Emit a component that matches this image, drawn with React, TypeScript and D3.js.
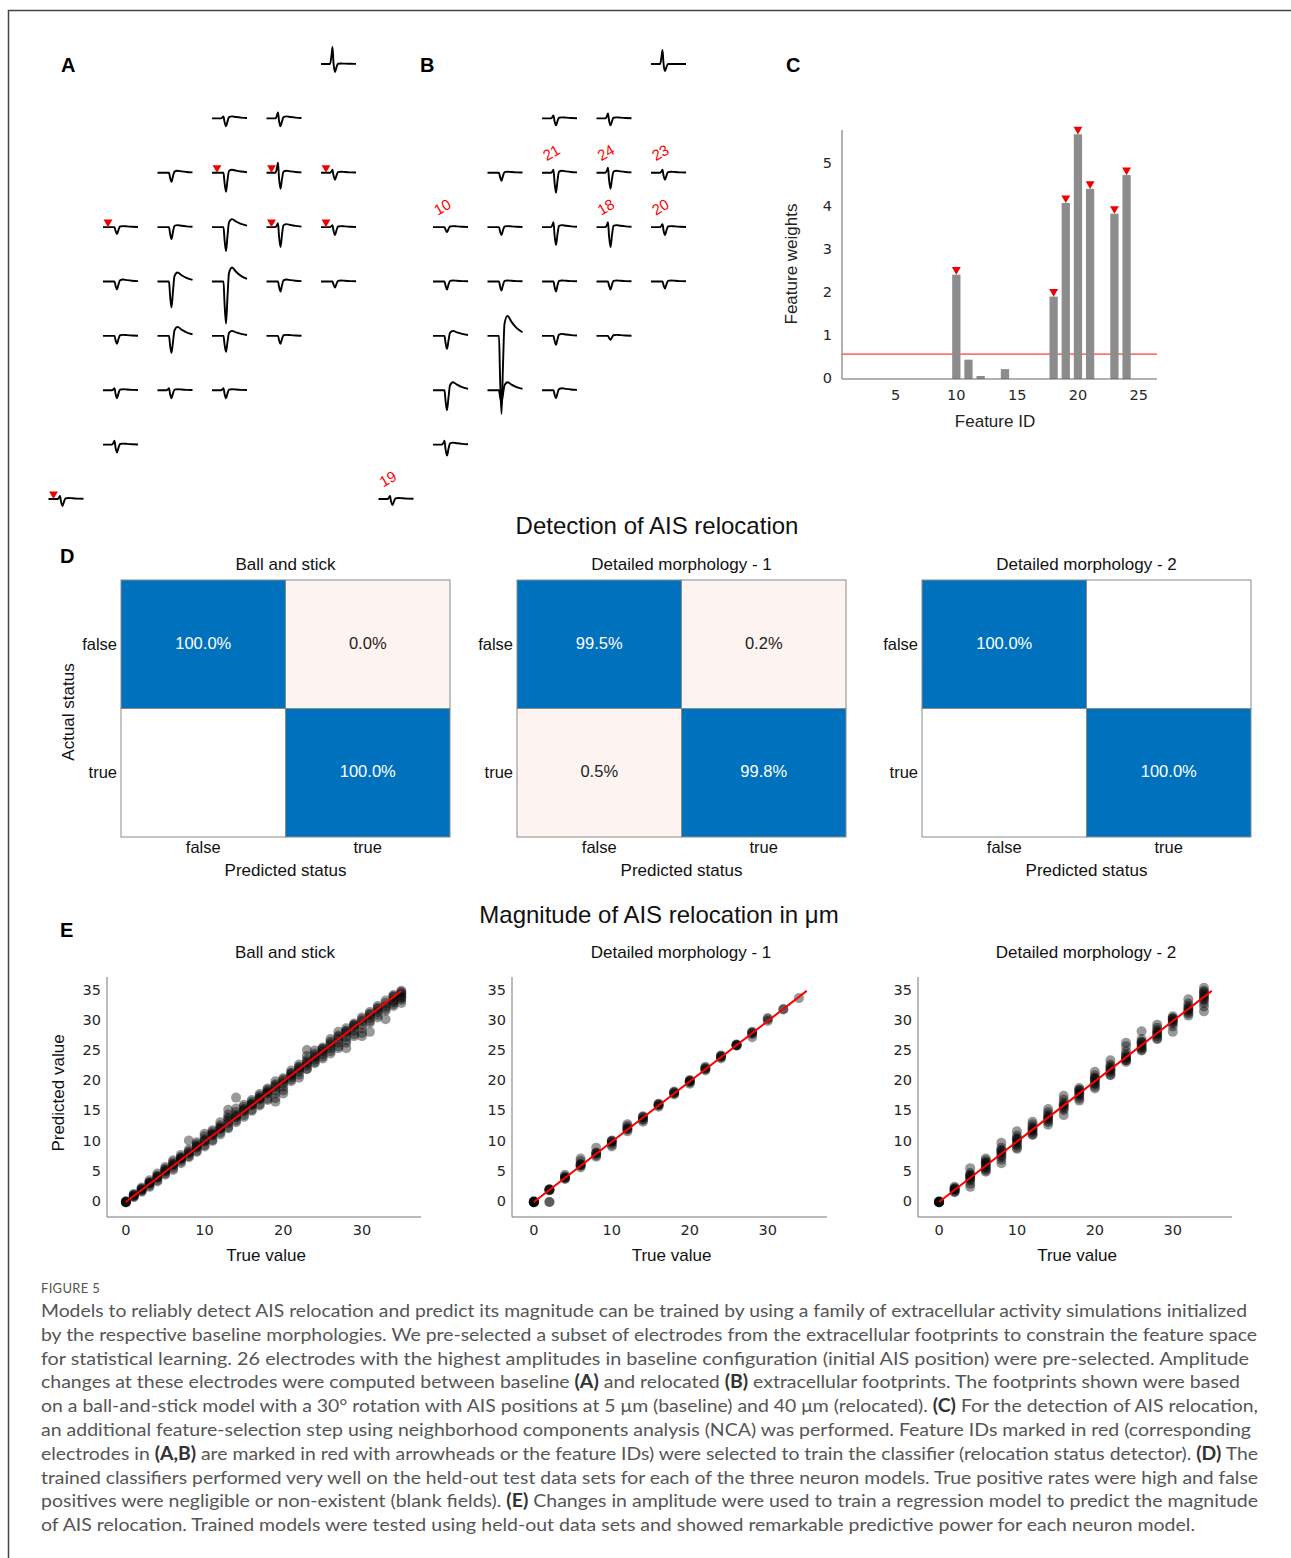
import React, { useEffect } from 'react';
import * as d3 from 'd3';

// ---- A / B : extracellular footprints (template spike, amplitudes per electrode) ----
const spikeT = [0, 9, 10.5, 11.5, 12.5, 14, 15.5, 17, 20, 24, 29, 35];
const preShape = [0, 0, 0.5, 1, 0.3, 0, 0, 0, 0, 0, 0, 0];
const troughShape = [0, 0, 0, 0, -0.5, -1, -0.4, 0, 0, 0, 0, 0];
const reboundShape = [0, 0, 0, 0, 0, 0, 0.1, 0.6, 1, 0.7, 0.4, 0.18];

const elecCol = [4, 2, 3, 1, 2, 3, 4, 0, 1, 2, 3, 4, 0, 1, 2, 3, 4, 0, 1, 2, 3, 0, 1, 2, 0, -1];
const elecRow = [0, 1, 1, 2, 2, 2, 2, 3, 3, 3, 3, 3, 4, 4, 4, 4, 4, 5, 5, 5, 5, 6, 6, 6, 7, 8];
const elecFeature = [null, null, null, null, '21', '24', '23', '10', null, null, '18', '20', null, null, null, null, null, null, null, null, null, null, null, null, null, '19'];
// [pre-spike, trough, rebound]
const baselineAmps = [
  [17, 8, 0.5], [2, 8, 2], [6, 8, 2], [0, 9, 2], [0, 19, 3], [10, 16, 2], [3, 7, 1], [0, 7, 1], [0, 12, 2], [0, 24, 8],
  [4, 20, 3], [2, 8, 1], [0, 8, 2], [0, 26, 9], [0, 42, 14], [0, 10, 2], [0, 6, 1], [0, 8, 1], [0, 17, 9], [0, 16, 5],
  [0, 8, 1], [2, 8, 1], [2, 8, 1], [2, 8, 1], [4, 8, 1], [3, 7, 1],
];
const relocatedAmps = [
  [14, 7, 0], [3, 7, 1], [5, 7, 1], [0, 8, 1], [3, 20, 2], [5, 16, 2], [3, 7, 1], [0, 5, 1], [0, 8, 1], [5, 18, 2],
  [5, 20, 2], [3, 8, 1], [0, 8, 1], [0, 9, 1], [0, 10, 1], [0, 8, 1], [0, 7, 1], [0, 13, 5], [0, 78, 20], [0, 9, 2],
  [0, 4, 1], [0, 20, 8], [0, 12, 8], [0, 8, 2], [4, 11, 2], [3, 6, 1],
];

// ---- C : NCA feature weights ----
const featureIds = [1, 2, 3, 4, 5, 6, 7, 8, 9, 10, 11, 12, 13, 14, 15, 16, 17, 18, 19, 20, 21, 22, 23, 24, 25, 26];
const featureWeights = [0, 0, 0, 0, 0, 0, 0, 0, 0, 2.43, 0.45, 0.07, 0, 0.23, 0, 0, 0, 1.92, 4.1, 5.7, 4.43, 0, 3.85, 4.75, 0, 0];
const selectedFeatures = [10, 18, 19, 20, 21, 23, 24];
const weightThreshold = 0.58;
const cXTicks = [5, 10, 15, 20, 25];
const cYTicks = [0, 1, 2, 3, 4, 5];

// ---- D : confusion matrices ----
const modelNames = ['Ball and stick', 'Detailed morphology - 1', 'Detailed morphology - 2'];
const statusLabels = ['false', 'true'];
const confusion = [
  [[100.0, 0.0], [null, 100.0]],
  [[99.5, 0.2], [0.5, 99.8]],
  [[100.0, null], [null, 100.0]],
];

// ---- E : regression (true value, residuals of predictions) ----
const bsTrue = [0, 1, 2, 3, 4, 5, 6, 7, 8, 9, 10, 11, 12, 13, 14, 15, 16, 17, 18, 19, 20, 21, 22, 23, 24, 25, 26, 27, 28, 29, 30, 31, 32, 33, 34, 35];
const bsResid = [
  [0, -0.1, 0.1, 0, -0.05, 0.05], [0.2, -0.1, 0.3, 0, 0.1, -0.2], [0.1, -0.2, 0.4, 0, 0.2, -0.3],
  [0.3, -0.3, 0.6, 0, 0.2, -0.5, 0.1], [0.4, -0.4, 0.7, 0, 0.2, -0.6, 0.1], [0.5, -0.3, 0.8, 0, 0.2, -0.5, 0.3],
  [0.6, -0.4, 0.9, 0, 0.3, -0.7, 0.2], [0.5, -0.3, 0.8, 0.1, 0.3, -0.6, 0.2], [2.2, 0.4, -0.4, 0.7, 0, 0.2, -0.6],
  [0.6, -0.5, 0.9, 0, 0.3, -0.7, 0.2], [1.3, -0.6, 0.9, 0, 0.4, -0.8, 0.2], [0.9, -0.7, 0.6, 0, 0.3, -0.9, 0.2],
  [1.2, -0.5, 0.7, 0.1, 0.4, -0.8, 0.2], [2.3, 1.5, -0.6, 0.8, 0, 0.4, -0.8, 1.0], [3.3, 1.5, -0.5, 0.9, 0, 0.4, -0.8, 0.2],
  [0.8, -0.6, 1.1, 0, 0.3, -0.9, 0.4], [0.9, -0.7, 0.6, 0, 0.3, -0.9, 0.2], [0.9, -0.8, 0.6, 0, 0.3, -1.0, 0.2],
  [0.8, -0.9, 0.6, 0, 0.3, -1.1, 0.2], [1.0, -2.4, -1.8, 0.5, 0, 0.3, -1.0, -0.5], [0.5, -1.5, -2.0, 0, 0.3, -0.9, -0.4],
  [0.4, -1.0, 0.8, 0, 0.3, -0.7, -0.3], [0.8, -1.4, 0.4, 0, 0.3, -0.9, -0.4], [2.2, 1.2, -0.9, 0.6, 0, 0.3, -1.0, -0.4],
  [1.1, -1.0, 0.6, 0, 0.3, -0.8, -0.4], [0.6, -1.2, 0.4, 0, 0.3, -0.9, -0.5], [1.0, -1.0, 0.6, 0, 0.3, -1.4, -0.5],
  [1.2, -1.2, 0.6, 0, 0.4, -1.5, -0.6], [0.8, -2.5, -1.6, 0.4, 0, 0.3, -1.2, -0.6], [0.6, -1.2, 0.4, 0, 0.3, -1.5, -0.6],
  [0.6, -2.5, -2.0, 0.3, 0, -1.2, -0.6], [0.5, -2.8, -1.0, 0.2, 0, -1.3, -0.5], [0.5, -1.0, 0.2, 0, -1.4, -0.5],
  [0.4, -2.7, -1.0, 0, -1.3, -0.6], [0.3, -1.2, 0.1, 0, -1.5, -0.6, -0.9], [0, -1.0, -0.4, -0.2, -1.5, -2.0, -0.7, -1.2],
];
const dmTrue = [0, 2, 4, 6, 8, 10, 12, 14, 16, 18, 20, 22, 24, 26, 28, 30, 32, 34];
const dm1Resid = [
  [0, 0, 0, 0.1, -0.1, 0, 0.05, -0.05], [0, -0.1, 0.1, 0, 0.05, -2, -2], [0, 0.2, -0.2, 0.1, 0.5, -0.1], [0, 0.3, -0.3, 0.2, 1.2, 0.8, 0.1],
  [0, -0.3, 0.2, -0.5, 1.0, 0.1], [0, -0.2, 0.2, -0.8, -0.5, 0.1], [0, 0.3, -0.3, 0.6, 0.9, 0.1], [0, -0.3, 0.2, -0.7, -0.4, 0.1],
  [0, 0.2, -0.2, 0.3, 0.1], [0, 0.2, -0.2, 0.3, 0.1], [0, -0.2, 0.2, -0.4, 0.1, 0], [0, -0.2, 0.2, 0.4, 0.1], [0, 0.2, -0.2, 0.3, 0.1],
  [0, 0, 0.1, -0.1, 0.05], [0, -0.2, 0.2, -0.7, 0.1], [0.3, 0, 0.5], [0, -0.1], [-0.2],
];
const dm2Resid = [
  [0, 0, 0, 0.1, -0.1, 0, 0.05, -0.05], [0, 0.3, -0.3, 0.5, -0.4, 0.2, -0.1, 0.1], [0, 0.4, -0.5, 0.8, -1.0, 1.6, -1.5, 0.2, -0.2, 0.5],
  [0, 0.5, -0.5, 0.9, -0.8, 1.2, -1.0, 0.3, -0.3, 0.6], [0, 0.6, -0.6, 1.0, -1.0, 1.8, -1.6, 0.3, -0.3, 0.5], [0, 0.6, -0.6, 1.0, -1.0, 1.7, -1.2, 0.3, -0.3, 0.4],
  [0, 0.5, -0.5, 0.9, -0.8, 1.3, -0.9, 0.2, -0.2], [0, 0.5, -0.5, 0.9, -0.8, 1.4, -1.2, 0.2, -0.2], [0, 0.5, -0.5, 1.0, -0.8, 1.6, -1.6, 0.2, -0.2],
  [0, 0.5, -0.5, 0.9, -0.9, -1.2, 0.3, -0.2, 0.6], [0, 0.5, -0.5, 1.0, -0.9, 1.6, -1.2, 0.3, -0.3, 0.6], [0, 0.5, -0.5, 0.8, -0.9, 1.5, -1.0, 0.2, -0.2],
  [0, 0.5, -0.5, 1.0, -0.8, 2.4, 1.8, -0.5, 0.2, -0.2], [0, 0.5, -0.5, 1.0, -0.9, 2.3, -0.8, 0.3, -0.3, 0.6], [0, 0.5, -0.5, 0.9, -0.9, 1.4, -1.0, 0.2, -0.2],
  [0, 0.4, -0.4, 0.8, -0.9, -1.8, 0.3, -0.2, 0.5], [0, 0.5, -0.5, 0.9, -0.8, 1.6, -1.1, 0.2, -0.2], [0, 0.5, -0.5, 1.0, -1.0, 1.5, -1.6, -2.4, 0.8, -0.3, 0.2],
];
const eTicks = [0, 5, 10, 15, 20, 25, 30, 35];
const eXTicks = [0, 10, 20, 30];
const fitLine = [0, 35];

const captionLines = [
  'Models to reliably detect AIS relocation and predict its magnitude can be trained by using a family of extracellular activity simulations initialized',
  'by the respective baseline morphologies. We pre-selected a subset of electrodes from the extracellular footprints to constrain the feature space',
  'for statistical learning. 26 electrodes with the highest amplitudes in baseline configuration (initial AIS position) were pre-selected. Amplitude',
  'changes at these electrodes were computed between baseline **(A)** and relocated **(B)** extracellular footprints. The footprints shown were based',
  'on a ball-and-stick model with a 30° rotation with AIS positions at 5 μm (baseline) and 40 μm (relocated). **(C)** For the detection of AIS relocation,',
  'an additional feature-selection step using neighborhood components analysis (NCA) was performed. Feature IDs marked in red (corresponding',
  'electrodes in **(A,B)** are marked in red with arrowheads or the feature IDs) were selected to train the classifier (relocation status detector). **(D)** The',
  'trained classifiers performed very well on the held-out test data sets for each of the three neuron models. True positive rates were high and false',
  'positives were negligible or non-existent (blank fields). **(E)** Changes in amplitude were used to train a regression model to predict the magnitude',
  'of AIS relocation. Trained models were tested using held-out data sets and showed remarkable predictive power for each neuron model.',
];
const captionEnds = [1247, 1257, 1249, 1240, 1258, 1251, 1258, 1258, 1258, 1195];

const FONT = "'Liberation Sans', Arial, sans-serif";
const TICKFONT = "'DejaVu Sans', Verdana, sans-serif";
const BLUE = '#0072bd';
const TICKCOL = '#262626';

const triDown = d3.symbol(d3.symbolTriangle, 34)();

function spikePath(x0: number, y0: number, amp: number[]) {
  const xs = d3.scaleLinear().domain([0, 35]).range([x0, x0 + 35]);
  const pts: [number, number][] = spikeT.map((t, i) => [t, amp[0] * preShape[i] + amp[1] * troughShape[i] + amp[2] * reboundShape[i]]);
  return d3.line<[number, number]>().x(d => xs(d[0])).y(d => y0 - d[1]).curve(d3.curveMonotoneX)(pts) || '';
}

const Footprint: React.FC<{ x0: number; amps: number[][]; letter: string; letterX: number; labels: boolean }> = ({ x0, amps, letter, letterX, labels }) => {
  const col = d3.scaleLinear().domain([0, 4]).range([x0, x0 + 218]);
  const row = d3.scaleLinear().domain([0, 8]).range([64, 499]);
  return (
    <g>
      <text x={letterX} y={72} fontFamily={FONT} fontWeight="bold" fontSize={20}>{letter}</text>
      {amps.map((a, i) => {
        const x = col(elecCol[i]);
        const y = row(elecRow[i]);
        const f = elecFeature[i];
        return (
          <g key={i}>
            <path d={spikePath(x, y, a)} fill="none" stroke="#000" strokeWidth={1.9} strokeLinejoin="round" />
            {f && !labels && <path d={triDown} transform={`translate(${x + 5},${y - 5}) rotate(180)`} fill="#e00" />}
            {f && labels && (
              <text x={x + 10} y={y - 19} transform={`rotate(-30 ${x + 10} ${y - 19})`} fill="#f00" fontFamily={FONT}
                fontSize={15} textAnchor="middle" dominantBaseline="middle">{f}</text>
            )}
          </g>
        );
      })}
    </g>
  );
};

const WeightsPanel: React.FC = () => {
  const x = d3.scaleLinear().domain([0.6, 26.5]).range([842, 1157]);
  const y = d3.scaleLinear().domain([0, 5.8]).range([379, 130]);
  const bw = (x(1) - x(0)) * 0.68;
  return (
    <g fontFamily={TICKFONT}>
      <text x={786} y={72} fontFamily={FONT} fontWeight="bold" fontSize={20}>C</text>
      <line x1={x.range()[0]} x2={x.range()[1]} y1={y(weightThreshold)} y2={y(weightThreshold)} stroke="#ff3b3b" strokeWidth={1.2} />
      {featureIds.map((id, i) => featureWeights[i] > 0 && (
        <rect key={id} x={x(id) - bw / 2} y={y(featureWeights[i])} width={bw} height={y(0) - y(featureWeights[i])} fill="#8c8c8c" />
      ))}
      {selectedFeatures.map(id => (
        <path key={id} d={triDown} transform={`translate(${x(id)},${y(featureWeights[id - 1]) - 5}) rotate(180)`} fill="#e00" />
      ))}
      <line x1={x.range()[0]} x2={x.range()[1]} y1={y(0)} y2={y(0)} stroke="#666" />
      <line x1={x.range()[0]} x2={x.range()[0]} y1={y(0)} y2={y.range()[1]} stroke="#666" />
      {cXTicks.map(t => (
        <text key={t} x={x(t)} y={396} fontSize={14.5} fill={TICKCOL} textAnchor="middle" dominantBaseline="middle">{t}</text>
      ))}
      {cYTicks.map(t => (
        <text key={t} x={832} y={y(t)} fontSize={14.5} fill={TICKCOL} textAnchor="end" dominantBaseline="middle">{t}</text>
      ))}
      <text x={995} y={423} fontFamily={FONT} fontSize={17} fill="#222" textAnchor="middle" dominantBaseline="middle">Feature ID</text>
      <text transform="translate(793,264) rotate(-90)" fontFamily={FONT} fontSize={17} fill="#222" textAnchor="middle" dominantBaseline="middle">Feature weights</text>
    </g>
  );
};

const ConfusionPanel: React.FC<{ left: number; m: number }> = ({ left, m }) => {
  const xb = d3.scaleBand().domain(statusLabels).range([left, left + 329]);
  const yb = d3.scaleBand().domain(statusLabels).range([580, 837]);
  const cx = left + 164.5;
  return (
    <g fontFamily={FONT}>
      <text x={cx} y={566} fontSize={17} textAnchor="middle" dominantBaseline="middle" fill="#111">{modelNames[m]}</text>
      {statusLabels.map((a, r) => statusLabels.map((p, c) => {
        const v = confusion[m][r][c];
        const fill = v === null ? '#fff' : v > 50 ? BLUE : '#fdf4f1';
        return (
          <g key={a + p}>
            <rect x={xb(p)} y={yb(a)} width={xb.bandwidth()} height={yb.bandwidth()} fill={fill} stroke="#8a8a8a" strokeWidth={1} />
            {v !== null && (
              <text x={(xb(p) || 0) + xb.bandwidth() / 2} y={(yb(a) || 0) + yb.bandwidth() / 2} fontSize={16.5}
                fill={v > 50 ? '#fff' : '#222'} textAnchor="middle" dominantBaseline="middle">{v.toFixed(1)}%</text>
            )}
          </g>
        );
      }))}
      {statusLabels.map(a => (
        <text key={'r' + a} x={left - 4} y={(yb(a) || 0) + yb.bandwidth() / 2 + 1} fontSize={16.5} textAnchor="end" dominantBaseline="middle" fill="#111">{a}</text>
      ))}
      {statusLabels.map(p => (
        <text key={'c' + p} x={(xb(p) || 0) + xb.bandwidth() / 2} y={849} fontSize={16.5} textAnchor="middle" dominantBaseline="middle" fill="#111">{p}</text>
      ))}
      <text x={cx} y={872} fontSize={17} textAnchor="middle" dominantBaseline="middle" fill="#111">Predicted status</text>
    </g>
  );
};

const ScatterPanel: React.FC<{ left: number; right: number; xd: [number, number]; title: string; titleX: number; truth: number[]; resid: number[][]; ylab: boolean }> =
  ({ left, right, xd, title, titleX, truth, resid, ylab }) => {
    const x = d3.scaleLinear().domain(xd).range([left, right]);
    const y = d3.scaleLinear().domain([-2.5, 37.3]).range([1217, 977]);
    const line = d3.line<number>().x(d => x(d)).y(d => y(d));
    return (
      <g fontFamily={TICKFONT}>
        <text x={titleX} y={954} fontFamily={FONT} fontSize={17} fill="#111" textAnchor="middle" dominantBaseline="middle">{title}</text>
        {truth.map((t, i) => resid[i].map((r, j) => (
          <circle key={t + '-' + j} cx={x(t)} cy={y(t + r)} r={5} fill="#000" fillOpacity={0.4} />
        )))}
        <path d={line(fitLine) || ''} stroke="#f00" strokeWidth={2} fill="none" />
        <line x1={left} x2={right} y1={1217} y2={1217} stroke="#777" />
        <line x1={left} x2={left} y1={1217} y2={977} stroke="#777" />
        {eTicks.map(t => (
          <text key={t} x={left - 6} y={y(t)} fontSize={14.5} fill={TICKCOL} textAnchor="end" dominantBaseline="middle">{t}</text>
        ))}
        {eXTicks.map(t => (
          <text key={t} x={x(t)} y={1231} fontSize={14.5} fill={TICKCOL} textAnchor="middle" dominantBaseline="middle">{t}</text>
        ))}
        <text x={(left + right) / 2 + 2} y={1257} fontFamily={FONT} fontSize={17} fill="#111" textAnchor="middle" dominantBaseline="middle">True value</text>
        {ylab && <text transform={`translate(60,1093) rotate(-90)`} fontFamily={FONT} fontSize={17} fill="#111" textAnchor="middle" dominantBaseline="middle">Predicted value</text>}
      </g>
    );
  };

const Caption: React.FC = () => (
  <g fontFamily="Lato, 'Open Sans', sans-serif" fill="#555">
    <text x={41} y={1293} fontSize={13} letterSpacing={0.3}>FIGURE 5</text>
    {captionLines.map((ln, i) => (
      <text key={i} x={41} y={1317 + i * 23.8} fontSize={18} textLength={captionEnds[i] - 41} lengthAdjust="spacingAndGlyphs">
        {ln.split('**').map((s, k) => <tspan key={k} fontWeight={k % 2 ? 'bold' : 'normal'} fill={k % 2 ? '#333' : '#555'}>{s}</tspan>)}
      </text>
    ))}
  </g>
);

export default function App() {
  useEffect(() => {
    document.body.style.margin = '0';
  }, []);
  return (
    <svg width={1291} height={1558} style={{ display: 'block', background: '#fff' }}>
      <rect width={1291} height={1558} fill="#fff" />
      <path d="M8.5,1558 V10.5 H1291" fill="none" stroke="#444" strokeWidth={1.5} />
      <Footprint x0={103} amps={baselineAmps} letter="A" letterX={61} labels={false} />
      <Footprint x0={433} amps={relocatedAmps} letter="B" letterX={420} labels={true} />
      <WeightsPanel />

      <text x={657} y={528} fontFamily={FONT} fontSize={24} textAnchor="middle" dominantBaseline="middle" fill="#111">Detection of AIS relocation</text>
      <text x={60} y={563} fontFamily={FONT} fontWeight="bold" fontSize={20}>D</text>
      <text transform="translate(70,712) rotate(-90)" fontFamily={FONT} fontSize={17} textAnchor="middle" dominantBaseline="middle" fill="#111">Actual status</text>
      {[121, 517, 922].map((l, m) => <ConfusionPanel key={m} left={l} m={m} />)}

      <text x={659} y={917} fontFamily={FONT} fontSize={24} textAnchor="middle" dominantBaseline="middle" fill="#111">Magnitude of AIS relocation in μm</text>
      <text x={60} y={937} fontFamily={FONT} fontWeight="bold" fontSize={20}>E</text>
      <ScatterPanel left={107} right={421} xd={[-2.4, 37.5]} title={modelNames[0]} titleX={285} truth={bsTrue} resid={bsResid} ylab={true} />
      <ScatterPanel left={512} right={827} xd={[-2.8, 37.6]} title={modelNames[1]} titleX={681} truth={dmTrue} resid={dm1Resid} ylab={false} />
      <ScatterPanel left={918} right={1232} xd={[-2.7, 37.6]} title={modelNames[2]} titleX={1086} truth={dmTrue} resid={dm2Resid} ylab={false} />

      <Caption />
    </svg>
  );
}
